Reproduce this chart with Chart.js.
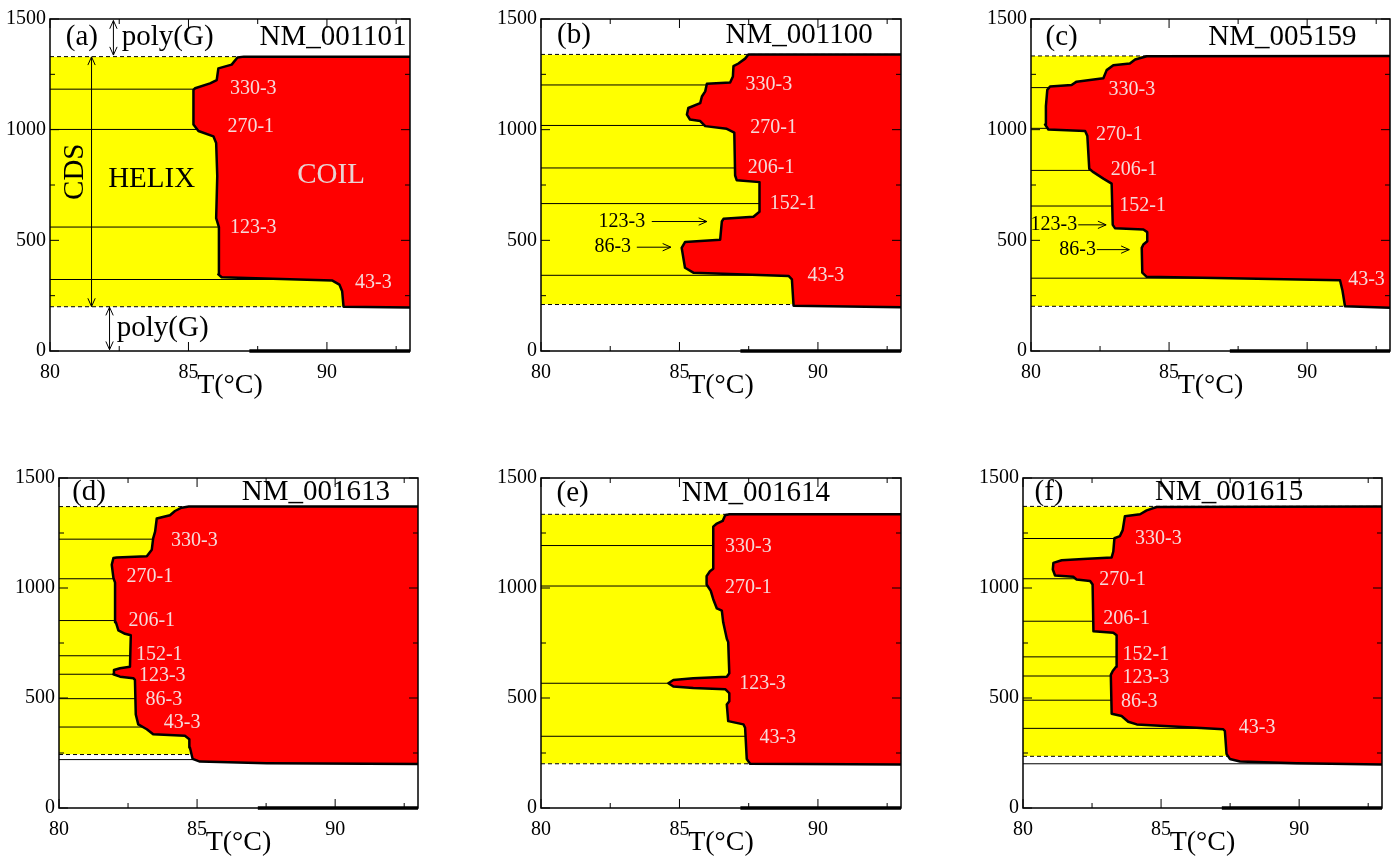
<!DOCTYPE html>
<html>
<head>
<meta charset="utf-8">
<script src="https://cdn.jsdelivr.net/npm/chart.js@4.4.1/dist/chart.umd.min.js"></script>
<style>
  body { margin: 0; background: #fff; width: 1400px; height: 861px; overflow: hidden; position: relative; }
  canvas { position: absolute; }
</style>
</head>
<body>
<canvas id="c0"></canvas>
<canvas id="c1"></canvas>
<canvas id="c2"></canvas>
<canvas id="c3"></canvas>
<canvas id="c4"></canvas>
<canvas id="c5"></canvas>
<script>
// axis ticks
const xMajor = [80, 85, 90];
const xMinor = [82.5, 87.5, 92.5];
const yMajor = [0, 500, 1000, 1500];
const yMinor = [250, 750, 1250];

const panelTags = ['(a)', '(b)', '(c)', '(d)', '(e)', '(f)'];
const geneIds = ['NM_001101', 'NM_001100', 'NM_005159', 'NM_001613', 'NM_001614', 'NM_001615'];

// helix/coil boundary: [T, position]
const bndA = [[93,196],[90.6,200],[90.55,270],[90.45,300],[90.2,318],[86.2,333],[86.08,346],[86.1,560],[86.0,600],[86.04,790],[86.0,940],[85.9,970],[85.36,994],[85.18,1023],[85.18,1180],[85.24,1187],[85.78,1209],[86.02,1224],[86.08,1277],[86.56,1294],[86.77,1326],[87,1330],[93,1330]];
const bndB = [[93,198],[89.12,205],[89.06,324],[88.94,339],[85.5,354],[85.2,376],[85.08,466],[85.2,492],[86.47,503],[86.53,585],[86.59,597],[87.67,607],[87.89,629],[87.89,763],[87.07,771],[87.01,793],[86.98,987],[86.71,1004],[85.93,1016],[85.75,1039],[85.38,1046],[85.27,1068],[85.32,1098],[85.75,1120],[85.81,1150],[85.93,1173],[85.99,1207],[86.83,1213],[86.93,1240],[86.95,1287],[87.13,1299],[87.37,1321],[87.49,1340],[93,1340]];
const bndC = [[93,195],[91.37,202],[91.28,272],[91.19,320],[84.19,335],[84.03,354],[84.01,466],[84.07,481],[84.21,496],[84.21,537],[84.07,549],[83.04,555],[82.96,570],[82.92,756],[82.62,779],[82.26,808],[82.11,823],[82.04,972],[81.96,994],[80.63,1001],[80.51,1023],[80.54,1106],[80.59,1180],[80.69,1195],[81.47,1202],[81.65,1217],[82.62,1232],[82.74,1269],[82.98,1291],[83.58,1299],[83.77,1317],[84.19,1332],[93,1333]];
const bndD = [[93,200],[87.52,203],[85.1,211],[84.84,223],[84.74,275],[84.72,313],[84.56,328],[83.41,335],[83.18,358],[82.87,380],[82.78,425],[82.75,582],[82.69,590],[82.21,597],[81.97,608],[81.99,627],[82.21,635],[82.57,642],[82.6,785],[82.39,792],[82.15,807],[82.06,844],[82.03,1024],[81.97,1046],[81.91,1106],[81.97,1136],[82.09,1139],[83.18,1144],[83.36,1174],[83.41,1226],[83.48,1256],[83.54,1316],[84.02,1331],[84.2,1350],[84.44,1365],[84.7,1370],[93,1371]];
const bndE = [[93,198],[87.55,201],[87.43,223],[87.37,365],[87.31,380],[86.76,395],[86.71,470],[86.8,485],[86.8,522],[86.65,540],[85.5,545],[84.78,552],[84.6,567],[84.78,582],[85.5,590],[86.71,597],[86.8,612],[86.76,754],[86.71,769],[86.58,844],[86.53,897],[86.35,907],[86.22,949],[86.13,987],[85.98,1016],[85.98,1054],[86.1,1076],[86.22,1087],[86.22,1279],[86.35,1293],[86.56,1305],[86.65,1331],[86.8,1335],[93,1335]];
const bndF = [[93,198],[89.91,203],[87.86,211],[87.49,223],[87.37,246],[87.31,350],[87.25,358],[86.29,365],[84.12,380],[83.81,392],[83.57,418],[83.21,428],[83.18,605],[83.25,623],[83.37,642],[83.39,785],[83.27,797],[82.55,803],[82.52,1016],[82.43,1032],[81.94,1039],[81.82,1051],[81.16,1057],[81.08,1084],[81.1,1114],[81.4,1126],[82.18,1132],[83.21,1139],[83.27,1166],[83.31,1226],[83.51,1236],[83.61,1263],[83.69,1326],[84.24,1335],[84.48,1353],[84.84,1368],[93,1371]];
const boundaries = [bndA, bndB, bndC, bndD, bndE, bndF];

// CDS extent (dashed lines)
const cdsRange = [[200,1330],[210,1340],[202,1333],[243,1370],[201,1335],[235,1371]];

// thin solid marker lines
const marksA = [323, 560, 1001, 1183];
const marksB = [342, 666, 827, 1019, 1202];
const marksC = [329, 655, 816, 1006, 1190];
const marksD = [220, 368, 497, 608, 692, 852, 1042, 1222];
const marksE = [326, 567, 1009, 1193];
const marksF = [201, 362, 490, 600, 687, 849, 1042, 1225];
const marks = [marksA, marksB, marksC, marksD, marksE, marksF];

// thick segment on the T axis
const baseSeg = [[87.2, 0], [93, 0]];

// labels in the coil region: [text, T, position]
const labA = [['330-3',87.34,1183],['270-1',87.25,1013],['123-3',87.34,557],['43-3',91.68,308]];
const labB = [['330-3',88.23,1202],['270-1',88.4,1009],['206-1',88.31,827],['152-1',89.1,666],['43-3',90.29,339]];
const labC = [['330-3',83.65,1180],['270-1',83.2,979],['206-1',83.73,818],['152-1',84.04,655],['43-3',92.15,324]];
const labD = [['330-3',84.9,1216],['270-1',83.29,1051],['206-1',83.36,852],['152-1',83.63,698],['123-3',83.74,602],['86-3',83.8,494],['43-3',84.46,388]];
const labE = [['330-3',87.49,1189],['270-1',87.49,1001],['123-3',88.0,567],['43-3',88.55,320]];
const labF = [['330-3',84.9,1222],['270-1',83.61,1039],['206-1',83.75,859],['152-1',84.45,698],['123-3',84.45,593],['86-3',84.21,485],['43-3',88.48,365]];
const coilLabels = [labA, labB, labC, labD, labE, labF];

// arrowed labels: [text, T, position, arrow from T, arrow to T]
const arrB = [['123-3',82.92,585,84.0,85.99],['86-3',82.59,469,83.46,84.69]];
const arrC = [['123-3',80.83,570,81.71,82.72],['86-3',81.69,458,82.38,83.56]];
const arrowLabels = [[], arrB, arrC, [], [], []];

// header anchors [T, position]
const tagPos = [[81.15,1418],[81.19,1425],[81.11,1418],[81.09,1436],[81.14,1428],[80.94,1436]];
const idPos = [[90.22,1418],[89.32,1425],[89.1,1418],[89.3,1436],[87.76,1428],[87.46,1436]];

// plot boxes on the page: left, top, right, bottom
const boxes = [[50,15,410,351],[541,15,901,351],[1031,15,1390,351],[59,474,418,808],[541,474,901,808],[1023,474,1382,808]];

Chart.defaults.font.family = '"Liberation Serif", "DejaVu Serif", serif';
Chart.defaults.color = '#000';

const LW = 50, TP = 12, RP = 8, XH = 56;

function pts(arr) {
  return arr.map(p => ({ x: p[0], y: p[1] }));
}

function arrowHead(ctx, x, y, ang) {
  const L = 9, w = 0.42;
  ctx.beginPath();
  ctx.moveTo(x - L * Math.cos(ang - w), y - L * Math.sin(ang - w));
  ctx.lineTo(x, y);
  ctx.lineTo(x - L * Math.cos(ang + w), y - L * Math.sin(ang + w));
  ctx.stroke();
}

function arrow(ctx, x1, y1, x2, y2, both) {
  ctx.beginPath();
  ctx.moveTo(x1, y1);
  ctx.lineTo(x2, y2);
  ctx.stroke();
  const ang = Math.atan2(y2 - y1, x2 - x1);
  arrowHead(ctx, x2, y2, ang);
  if (both) arrowHead(ctx, x1, y1, ang + Math.PI);
}

function decor(i) {
  return {
    id: 'decor' + i,
    afterDraw(chart) {
      const ctx = chart.ctx;
      const sx = chart.scales.x, sy = chart.scales.y;
      const a = chart.chartArea;
      const X = v => sx.getPixelForValue(v);
      const Y = v => sy.getPixelForValue(v);
      ctx.save();
      ctx.strokeStyle = '#000';
      ctx.fillStyle = '#000';

      // frame and inward ticks
      ctx.lineWidth = 1.5;
      ctx.strokeRect(a.left, a.top, a.right - a.left, a.bottom - a.top);
      ctx.lineWidth = 1;
      const tick = (vals, len) => {
        vals.forEach(v => {
          const px = X(v);
          ctx.beginPath();
          ctx.moveTo(px, a.bottom); ctx.lineTo(px, a.bottom - len);
          ctx.moveTo(px, a.top); ctx.lineTo(px, a.top + len);
          ctx.stroke();
        });
      };
      const tickY = (vals, len) => {
        vals.forEach(v => {
          const py = Y(v);
          ctx.beginPath();
          ctx.moveTo(a.left, py); ctx.lineTo(a.left + len, py);
          ctx.moveTo(a.right, py); ctx.lineTo(a.right - len, py);
          ctx.stroke();
        });
      };
      tick(xMajor, 9); tick(xMinor, 5);
      tickY(yMajor, 9); tickY(yMinor, 5);

      ctx.textBaseline = 'middle';
      ctx.textAlign = 'center';
      ctx.font = '29px "Liberation Serif"';
      ctx.fillText(panelTags[i], X(tagPos[i][0]), Y(tagPos[i][1]));
      ctx.fillText(geneIds[i], X(idPos[i][0]), Y(idPos[i][1]));

      ctx.font = '20px "Liberation Serif"';
      ctx.fillStyle = '#f5dada';
      coilLabels[i].forEach(l => ctx.fillText(l[0], X(l[1]), Y(l[2])));

      ctx.fillStyle = '#000';
      arrowLabels[i].forEach(l => {
        ctx.fillText(l[0], X(l[1]), Y(l[2]));
        arrow(ctx, X(l[3]), Y(l[2]), X(l[4]), Y(l[2]), false);
      });

      if (i === 0) {
        ctx.font = '29px "Liberation Serif"';
        ctx.fillText('HELIX', X(83.67), Y(777));
        ctx.fillStyle = '#e8d2d2';
        ctx.fillText('COIL', X(90.15), Y(795));
        ctx.fillStyle = '#000';
        ctx.textAlign = 'left';
        ctx.fillText('poly(G)', X(82.59), Y(1419));
        ctx.fillText('poly(G)', X(82.41), Y(100));
        ctx.save();
        ctx.translate(X(80.9), Y(810));
        ctx.rotate(-Math.PI / 2);
        ctx.textAlign = 'center';
        ctx.fillText('CDS', 0, 0);
        ctx.restore();
        arrow(ctx, X(82.29), Y(1493), X(82.29), Y(1337), true);
        arrow(ctx, X(81.5), Y(1329), X(81.5), Y(201), true);
        arrow(ctx, X(82.15), Y(198), X(82.15), Y(6), true);
      }
      ctx.restore();
    }
  };
}

function buildDatasets(i) {
  const ds = [];
  const cds = cdsRange[i];
  // helix region: filled leftwards to T = 80
  ds.push({
    data: [{ x: 93, y: cds[0] }, { x: 93, y: cds[1] }],
    fill: { value: 80 }, backgroundColor: '#ffff00', borderWidth: 0, pointRadius: 0, order: 5
  });
  marks[i].forEach(v => ds.push({
    data: [{ x: 80, y: v }, { x: 93, y: v }],
    fill: false, borderColor: '#000', borderWidth: 1, pointRadius: 0, order: 4
  }));
  cds.forEach(v => ds.push({
    data: [{ x: 80, y: v }, { x: 93, y: v }],
    fill: false, borderColor: '#000', borderWidth: 1, borderDash: [4, 3], pointRadius: 0, order: 4
  }));
  // coil region: boundary filled rightwards to T = 93
  ds.push({
    data: pts(boundaries[i]),
    fill: { value: 93 }, backgroundColor: '#ff0000', borderColor: '#000', borderWidth: 2.5,
    borderJoinStyle: 'round', pointRadius: 0, order: 1
  });
  ds.push({
    data: pts(baseSeg),
    fill: false, borderColor: '#000', borderWidth: 3.5, pointRadius: 0, order: 0, clip: 4
  });
  return ds;
}

boxes.forEach((b, i) => {
  const cv = document.getElementById('c' + i);
  const w = b[2] - b[0] + LW + RP;
  const h = b[3] - b[1] + TP + XH;
  cv.width = w; cv.height = h;
  cv.style.width = w + 'px'; cv.style.height = h + 'px';
  cv.style.left = (b[0] - LW) + 'px';
  cv.style.top = (b[1] - TP) + 'px';

  new Chart(cv, {
    type: 'line',
    data: { datasets: buildDatasets(i) },
    options: {
      indexAxis: 'y',
      responsive: false,
      animation: false,
      devicePixelRatio: 1,
      layout: { padding: { left: 0, top: TP, right: RP, bottom: 0 } },
      plugins: { legend: { display: false }, tooltip: { enabled: false } },
      scales: {
        x: {
          type: 'linear', position: 'bottom', min: 80, max: 93,
          grid: { display: false, drawTicks: false },
          border: { display: false },
          afterBuildTicks: s => { s.ticks = xMajor.map(v => ({ value: v })); },
          afterFit: s => { s.height = XH; },
          ticks: { font: { size: 20 }, padding: 10, maxRotation: 0, callback: v => String(v) },
          title: { display: true, text: 'T(°C)', font: { size: 28 }, padding: { top: 0, bottom: 5 } }
        },
        y: {
          type: 'linear', position: 'left', min: 0, max: 1500,
          grid: { display: false, drawTicks: false },
          border: { display: false },
          afterBuildTicks: s => { s.ticks = yMajor.map(v => ({ value: v })); },
          afterFit: s => { s.width = LW; },
          ticks: { font: { size: 20 }, padding: 4, callback: v => String(v) }
        }
      }
    },
    plugins: [decor(i)]
  });
});
</script>
</body>
</html>
